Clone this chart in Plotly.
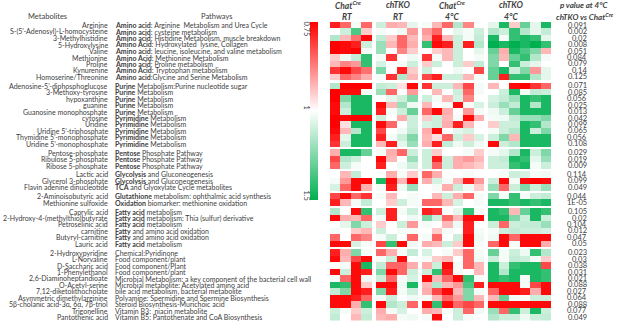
import plotly.graph_objects as go

W, H = 617, 323

metabolites = [
    "Arginine", "S-(5’-Adenosyl)-L-homocysteine", "3-Methylhistidine", "5-Hydroxylysine",
    "Valine", "Methionine", "Proline", "Kynurenine", "Homoserine/Threonine",
    "Adenosine-5’-diphosphoglucose", "3-Methoxy-tyrosine", "hypoxanthine", "guanine",
    "Guanosine monophosphate", "cytosine", "Uridine", "Uridine 5’-triphosphate",
    "Thymidine 5’-monophosphate", "Uridine 5’-monophosphate",
    "Pentose-phosphate", "Ribulose 5-phosphate", "Ribose 5-phosphate",
    "Lactic acid", "Glycerol 3-phosphate", "Flavin adenine dinucleotide",
    "2-Aminoisobutyric acid", "Methionine sulfoxide",
    "Caprylic acid", "2-Hydroxy-4-(methylthio)butyrate", "Petroselinic acid", "carnitine",
    "Butyryl-carnitine", "Lauric acid",
    "2-Hydroxypyridine", "L-Norvaline", "D-Saccharic acid", "1-Phenylethanol",
    "2,6-Diaminoheptandioate", "O-Acetyl-serine", "7,12-diketolithocholate",
    "Asymmetric dimethylarginine", "5β-cholanic acid-3α, 6α, 7β-triol", "Trigonelline",
    "Pantothenic acid",
]

pathways = [
    "<b>Amino acid</b>: Arginine  Metabolism and Urea Cycle",
    "<b>Amino acid</b>: cysteine metabolism",
    "<b>Amino acid</b>: Histidine Metabolism, muscle breakdown",
    "<b>Amino Acid</b>: Hydroxylated  lysine, Collagen",
    "<b>Amino acid</b>: leucine, isoleucine, and valine metabolism",
    "<b>Amino Acid</b>: Methionine Metabolism",
    "<b>Amino acid</b>: Proline metabolism",
    "<b>Amino Acid</b>: Tryptophan metabolism",
    "<b>Amino acid</b>:Glycine and Serine Metabolism",
    "<b>Purine</b> Metabolism:Purine nucleotide sugar",
    "<b>Purine</b> Metabolism",
    "<b>Purine</b> Metabolism",
    "<b>Purine</b> Metabolism",
    "<b>Purine</b> Metabolism",
    "<b>Pyrimidine</b> Metabolism",
    "<b>Pyrimidine</b> Metabolism",
    "<b>Pyrimidine</b> Metabolism",
    "<b>Pyrimidine</b> Metabolism",
    "<b>Pyrimidine</b> Metabolism",
    "<b>Pentose</b> Phosphate Pathway",
    "<b>Pentose</b> Phosphate Pathway",
    "<b>Pentose</b> Phosphate Pathway",
    "<b>Glycolysis</b> and Gluconeogenesis",
    "<b>Glycolysis</b> and Gluconeogenesis",
    "<b>TCA</b> and Glyoxylate Cycle metabolites",
    "<b>Glutathione</b> metabolism: ophthalmic acid synthesis",
    "<b>Oxidation</b> biomarker: methionine oxidation",
    "<b>Fatty acid</b> metabolism",
    "<b>Fatty acid</b> metabolism: Thia (sulfur) derivative",
    "<b>Fatty acid</b> metabolism",
    "<b>Fatty</b> and amino acid oxidation",
    "<b>Fatty</b> and amino acid oxidation",
    "<b>Fatty acid</b> metabolism",
    "Chemical:Pyridinone",
    "Food component/plant",
    "Food component/Plant",
    "Food component/plant",
    "Microbial Metabolism: a key component of the bacterial cell wall",
    "Microbial metabolite: Acetylated amino acid",
    "bile acid metabolism, bacterial metabolite",
    "Polyamine: Spermidine and Spermine Biosynthesis",
    "Steroid Biosynthesis-Murichoic acid",
    "Vitamin B3:  niacin metabolite",
    "Vitamin B5: Pantothenate and CoA Biosynthesis",
]

p_values = [
    "0.091", "0.002", "0.02", "0.008", "0.051", "0.084", "0.079", "0.14", "0.125",
    "0.071", "0.085", "0.056", "0.025", "0.013",
    "0.042", "0.099", "0.065", "0.056", "0.108",
    "0.029", "0.019", "0.009",
    "0.114", "0.099", "0.049",
    "0.044", "1E-05",
    "0.105", "0.02", "0.104", "0.012", "0.047", "0.05",
    "0.023", "0.03", "0.038", "0.031", "0.021", "0.088", "0.027", "0.064", "0.088",
    "0.077", "0.049",
]

block_sizes = [9, 10, 3, 3, 2, 6, 11]

group_titles = ["Chat<sup>Cre</sup>", "chTKO", "Chat<sup>Cre</sup>", "chTKO"]
group_conditions = ["RT", "RT", "4°C", "4°C"]

# fold change values (red = 0.75, white = 1, green = 1.5)
chat_rt = [
    [0.78, 0.85, 1.02, 0.85], [1.0, 1.1, 1.35, 0.95], [1.15, 0.93, 0.86, 0.76],
    [0.75, 0.76, 0.78, 1.1], [0.75, 0.76, 0.75, 1.02], [0.95, 1.03, 1.12, 1.4],
    [0.93, 0.88, 0.9, 1.4], [0.8, 0.76, 0.82, 0.86], [0.95, 0.85, 0.88, 0.92],
    [1.15, 0.75, 0.75, 0.75], [0.75, 0.76, 0.76, 1.02], [0.75, 1.25, 1.45, 1.45],
    [0.76, 1.15, 1.45, 1.45], [0.76, 1.1, 1.45, 1.45], [0.75, 0.76, 0.75, 0.75],
    [0.75, 0.97, 1.45, 1.45], [0.76, 0.93, 1.15, 1.45], [0.78, 1.05, 1.45, 1.45],
    [0.8, 1.1, 1.45, 1.45],
    [0.92, 1.45, 1.45, 1.3], [0.82, 1.15, 1.1, 1.0], [0.85, 1.1, 1.02, 1.0],
    [1.0, 0.93, 1.12, 1.0], [1.02, 0.9, 0.76, 0.75], [1.08, 0.85, 0.76, 0.92],
    [0.82, 0.76, 0.85, 0.8], [0.78, 0.93, 1.02, 1.12],
    [1.15, 1.0, 0.76, 1.4], [0.76, 0.92, 0.93, 0.85], [1.0, 1.05, 1.25, 1.1],
    [1.02, 1.0, 0.95, 0.93], [0.85, 1.0, 0.85, 0.88], [0.76, 0.76, 1.08, 1.02],
    [0.78, 0.92, 1.25, 1.02], [0.76, 0.93, 0.82, 0.76], [1.0, 1.02, 0.76, 1.45],
    [0.76, 1.1, 0.76, 0.78], [1.02, 0.85, 0.76, 1.03], [1.45, 1.4, 0.76, 0.95],
    [1.12, 1.25, 0.76, 0.78], [0.76, 0.76, 0.78, 0.85], [0.76, 0.76, 0.92, 1.4],
    [1.1, 1.02, 0.95, 1.1], [1.12, 1.0, 0.93, 1.12],
]

tko_rt = [
    [1.1, 0.92, 0.93, 1.05], [1.02, 1.0, 1.03, 0.9], [1.12, 0.95, 0.85, 0.93],
    [1.2, 0.93, 0.85, 0.92], [1.2, 1.0, 0.88, 0.95], [1.02, 0.8, 1.0, 1.03],
    [1.08, 1.0, 1.02, 1.1], [1.25, 1.0, 0.78, 0.95], [1.02, 0.8, 1.15, 0.93],
    [1.12, 1.1, 0.97, 0.76], [1.2, 0.85, 1.0, 0.9], [1.0, 1.05, 1.1, 1.25],
    [0.76, 0.93, 1.2, 1.03], [0.78, 1.02, 1.1, 1.3], [1.1, 1.0, 0.92, 1.1],
    [0.76, 0.85, 1.0, 1.1], [0.82, 1.0, 1.03, 1.12], [0.78, 1.02, 1.1, 1.25],
    [0.93, 0.78, 1.05, 1.2],
    [1.02, 0.92, 0.85, 1.1], [0.76, 0.93, 1.0, 1.2], [0.78, 1.0, 1.03, 1.1],
    [1.0, 0.92, 1.02, 0.95], [1.45, 0.76, 0.93, 0.76], [1.02, 0.78, 1.03, 1.2],
    [1.02, 0.93, 1.0, 1.02], [1.0, 0.95, 1.1, 1.02],
    [1.1, 0.78, 1.02, 1.1], [1.02, 0.78, 1.0, 1.03], [0.95, 1.0, 1.1, 0.9],
    [1.1, 1.0, 1.02, 1.02], [1.02, 1.1, 1.0, 0.85], [0.82, 1.4, 0.76, 1.03],
    [0.85, 0.92, 1.02, 1.12], [1.02, 1.1, 0.76, 1.0], [1.12, 0.85, 0.85, 0.92],
    [1.25, 0.76, 0.85, 1.1], [1.1, 0.85, 1.02, 1.08], [0.76, 0.76, 1.03, 1.45],
    [1.25, 0.78, 1.02, 1.1], [1.02, 1.1, 1.0, 1.03], [0.76, 1.15, 1.1, 0.85],
    [0.92, 1.02, 1.08, 1.0], [0.93, 0.92, 1.02, 1.03],
]

chat_cold = [
    [1.02, 0.93, 0.85, 1.15, 0.88, 1.0], [0.9, 0.85, 1.0, 1.05, 1.02, 1.1],
    [0.92, 0.78, 0.93, 1.1, 1.02, 1.12], [1.4, 0.76, 0.78, 1.1, 0.78, 1.15],
    [1.0, 0.95, 0.93, 1.1, 1.0, 1.05], [0.8, 1.02, 0.93, 1.1, 1.0, 1.02],
    [0.95, 1.1, 1.0, 1.1, 0.95, 1.12], [1.1, 1.0, 1.0, 1.03, 1.0, 0.82],
    [0.82, 0.78, 1.1, 1.1, 0.93, 1.02],
    [0.8, 1.1, 1.1, 0.93, 0.82, 1.02], [1.0, 0.93, 1.0, 1.1, 0.85, 1.02],
    [1.1, 1.02, 0.93, 1.08, 0.88, 1.0], [0.93, 1.0, 1.02, 0.76, 1.02, 1.08],
    [0.85, 0.76, 0.92, 1.0, 0.9, 1.02], [0.95, 1.1, 0.93, 1.02, 0.76, 0.92],
    [1.08, 1.1, 0.92, 0.78, 0.93, 1.0], [0.92, 0.76, 1.0, 1.05, 1.08, 1.0],
    [0.93, 0.97, 0.85, 1.1, 0.95, 1.08], [0.92, 0.78, 1.12, 1.03, 1.1, 1.03],
    [1.1, 0.95, 1.0, 1.0, 1.02, 0.95], [1.1, 0.78, 1.1, 0.92, 0.9, 0.93],
    [1.1, 0.85, 1.1, 0.92, 0.93, 0.95],
    [0.85, 0.92, 1.0, 1.0, 1.02, 1.0], [0.92, 1.08, 1.02, 0.93, 0.78, 0.9],
    [1.0, 1.02, 0.92, 1.1, 1.03, 0.95],
    [1.0, 0.93, 1.1, 0.92, 0.85, 1.02], [0.85, 0.85, 0.93, 1.08, 1.0, 1.02],
    [0.78, 0.8, 1.0, 1.05, 1.4, 1.02], [1.25, 1.1, 0.85, 0.93, 0.76, 0.76],
    [1.02, 1.0, 0.93, 1.03, 0.78, 1.0], [1.0, 0.95, 1.02, 1.0, 0.78, 1.02],
    [1.02, 0.85, 1.0, 1.1, 0.76, 1.03], [0.92, 0.93, 1.1, 0.95, 0.76, 1.02],
    [1.08, 1.0, 1.02, 0.95, 0.85, 1.02], [1.02, 0.95, 0.93, 1.0, 0.85, 1.03],
    [0.92, 1.1, 0.76, 1.02, 0.85, 0.93], [1.1, 1.4, 0.78, 1.02, 1.0, 0.93],
    [0.76, 0.93, 0.85, 0.76, 1.4, 1.02], [0.93, 1.15, 0.93, 0.9, 1.35, 0.78],
    [0.92, 0.82, 0.76, 0.93, 1.25, 1.02], [1.02, 0.93, 0.85, 0.9, 1.25, 0.93],
    [0.76, 1.4, 0.76, 0.85, 0.82, 0.85], [0.92, 0.93, 1.02, 1.1, 0.85, 1.03],
    [1.02, 0.76, 1.0, 1.1, 1.02, 1.0],
]

tko_cold = [
    [1.05, 1.45, 0.95, 1.3, 1.05, 1.45], [1.15, 1.1, 1.4, 1.15, 1.05, 1.12],
    [1.45, 1.02, 1.4, 1.45, 1.4, 1.05], [1.5, 1.45, 1.5, 1.45, 1.5, 1.4],
    [1.3, 0.92, 1.45, 1.35, 1.25, 0.93], [1.25, 0.93, 1.3, 1.4, 1.15, 1.02],
    [1.25, 1.0, 1.4, 1.1, 1.05, 1.0], [1.3, 1.45, 1.1, 1.25, 0.9, 1.05],
    [1.3, 0.78, 1.4, 1.4, 1.15, 1.05],
    [0.93, 1.0, 0.76, 0.75, 0.8, 0.85], [1.0, 1.1, 1.45, 1.02, 1.12, 1.1],
    [1.08, 1.12, 1.2, 1.45, 1.4, 1.45], [1.1, 1.2, 1.12, 1.45, 1.15, 1.45],
    [1.03, 1.1, 1.3, 1.45, 1.45, 1.45], [1.02, 1.03, 1.12, 1.2, 1.2, 1.25],
    [0.95, 1.1, 1.1, 1.45, 1.4, 1.15], [1.02, 1.1, 1.15, 1.45, 1.1, 1.25],
    [1.1, 1.25, 0.93, 1.45, 1.45, 1.45], [0.76, 1.1, 1.15, 1.45, 1.45, 1.45],
    [1.02, 1.05, 1.15, 1.45, 1.1, 1.25], [1.1, 1.12, 1.45, 1.4, 1.05, 1.2],
    [1.1, 1.1, 1.4, 1.45, 1.02, 1.1],
    [1.0, 1.02, 1.1, 1.08, 1.02, 1.03], [1.1, 0.76, 1.02, 0.76, 0.75, 0.76],
    [1.2, 0.85, 1.1, 1.25, 1.1, 1.2],
    [1.25, 1.02, 1.4, 1.02, 1.1, 1.12], [1.45, 1.45, 1.4, 1.45, 1.4, 1.45],
    [1.45, 1.4, 0.93, 1.3, 1.45, 1.4], [1.45, 1.45, 1.25, 1.1, 1.45, 1.1],
    [1.1, 0.85, 1.1, 1.12, 1.12, 1.2], [1.02, 1.1, 1.12, 1.1, 1.1, 1.08],
    [1.03, 0.76, 0.85, 0.76, 0.76, 0.76], [0.85, 0.76, 1.02, 0.76, 0.76, 0.92],
    [1.3, 1.02, 1.1, 1.03, 1.4, 1.15], [1.1, 1.02, 1.12, 1.1, 1.02, 0.95],
    [1.45, 1.1, 1.4, 1.45, 1.45, 0.82], [1.45, 1.15, 1.45, 1.45, 1.45, 1.4],
    [1.45, 1.4, 1.45, 1.02, 1.45, 1.4], [0.76, 0.76, 0.76, 1.02, 0.82, 0.76],
    [0.85, 0.76, 0.76, 0.78, 0.92, 0.76], [0.93, 1.3, 1.02, 1.0, 1.1, 1.1],
    [0.76, 0.76, 0.76, 0.76, 0.76, 0.76], [1.2, 0.85, 1.4, 1.1, 1.45, 1.1],
    [1.15, 1.1, 1.1, 1.03, 1.1, 1.12],
]

groups = [chat_rt, tko_rt, chat_cold, tko_cold]

# ---- geometry (pixels) ----
HEAT_L, HEAT_R = 330, 551
HEAT_T, HEAT_B = 22, 320.5
COL_GAP = 0.38
ROW_GAP = 0.37
TXT = "#404040"
FONT = "Lato"


def to_scale(fc):
    # position on the diverging colour scale: 0 = green (1.5), 0.5 = white (1), 1 = red (0.75)
    if fc <= 1:
        t = 0.5 + (1 - fc) / 0.25 * 0.5
    else:
        t = 0.5 - (fc - 1) / 0.5 * 0.5
    return max(0.0, min(1.0, t))


# x edges with gap columns
x_edges = [0.0]
col_map = []
for gi, g in enumerate(groups):
    if gi > 0:
        x_edges.append(x_edges[-1] + COL_GAP)
        col_map.append(None)
    for ci in range(len(g[0])):
        x_edges.append(x_edges[-1] + 1)
        col_map.append((gi, ci))

# y edges with gap rows
y_edges = [0.0]
row_map = []
row_centers = []
r = 0
for bi, n in enumerate(block_sizes):
    if bi > 0:
        y_edges.append(y_edges[-1] + ROW_GAP)
        row_map.append(None)
    for _ in range(n):
        row_centers.append(y_edges[-1] + 0.5)
        y_edges.append(y_edges[-1] + 1)
        row_map.append(r)
        r += 1

z = []
for rm in row_map:
    row = []
    for cm in col_map:
        if rm is None or cm is None:
            row.append(None)
        else:
            gi, ci = cm
            row.append(to_scale(groups[gi][rm][ci]))
    z.append(row)

colorscale = [[0.0, "rgb(0,176,80)"], [0.5, "rgb(255,255,255)"], [1.0, "rgb(255,0,0)"]]

fig = go.Figure(go.Heatmap(
    z=z, x=x_edges, y=y_edges, zmin=0, zmax=1, colorscale=colorscale,
    hoverongaps=False,
    colorbar=dict(
        x=310 / W, xanchor="left", y=1 - HEAT_T / H, yanchor="top",
        lenmode="pixels", len=178, thicknessmode="pixels", thickness=8,
        outlinewidth=0, showticklabels=False, ticks="", xpad=0, ypad=0,
    ),
))

ann = []
for i, name in enumerate(metabolites):
    yc = row_centers[i]
    ann.append(dict(x=109.5 / W, y=yc, xref="paper", yref="y", text=name, showarrow=False,
                    xanchor="right", yanchor="middle", font=dict(family=FONT, size=7, color=TXT)))
    ann.append(dict(x=112.5 / W, y=yc, xref="paper", yref="y", text=pathways[i], showarrow=False,
                    xanchor="left", yanchor="middle", font=dict(family=FONT, size=7, color=TXT)))
    ann.append(dict(x=589 / W, y=yc, xref="paper", yref="y", text=p_values[i], showarrow=False,
                    xanchor="right", yanchor="middle", font=dict(family=FONT, size=7.5, color=TXT)))

# column headers
header_x = [348, 398, 452, 511]
for gi in range(4):
    ann.append(dict(x=header_x[gi] / W, y=1 - 5 / H, xref="paper", yref="paper",
                    text="<b><i>" + group_titles[gi] + "</i></b>", showarrow=False,
                    xanchor="center", yanchor="middle", font=dict(family=FONT, size=8.5, color=TXT)))
    ann.append(dict(x=header_x[gi] / W, y=1 - 16.5 / H, xref="paper", yref="paper",
                    text="<b><i>" + group_conditions[gi] + "</i></b>", showarrow=False,
                    xanchor="center", yanchor="middle", font=dict(family=FONT, size=8.5, color=TXT)))

ann.append(dict(x=584 / W, y=1 - 5 / H, xref="paper", yref="paper",
                text="<b><i>p value at 4°C</i></b>", showarrow=False,
                xanchor="center", yanchor="middle", font=dict(family=FONT, size=8, color=TXT)))
ann.append(dict(x=585 / W, y=1 - 16 / H, xref="paper", yref="paper",
                text="<b><i>chTKO vs Chat<sup>Cre</sup></i></b>", showarrow=False,
                xanchor="center", yanchor="middle", font=dict(family=FONT, size=8, color=TXT)))

ann.append(dict(x=47 / W, y=1 - 16 / H, xref="paper", yref="paper", text="Metabolites",
                showarrow=False, xanchor="center", yanchor="middle",
                font=dict(family=FONT, size=7.5, color=TXT)))
ann.append(dict(x=216 / W, y=1 - 17 / H, xref="paper", yref="paper", text="Pathways",
                showarrow=False, xanchor="center", yanchor="middle",
                font=dict(family=FONT, size=7.5, color=TXT)))

# colour bar labels
for lab, py in [("0.75", 28.5), ("1", 107.5), ("1.5", 195.5)]:
    ann.append(dict(x=306 / W, y=1 - py / H, xref="paper", yref="paper", text=lab,
                    showarrow=False, xanchor="center", yanchor="middle", textangle=90,
                    font=dict(family=FONT, size=7.5, color=TXT)))

fig.update_layout(
    width=W, height=H, margin=dict(l=0, r=0, t=0, b=0),
    paper_bgcolor="white", plot_bgcolor="white",
    xaxis=dict(domain=[HEAT_L / W, HEAT_R / W], range=[0, x_edges[-1]], visible=False, fixedrange=True),
    yaxis=dict(domain=[1 - HEAT_B / H, 1 - HEAT_T / H], range=[y_edges[-1], 0], visible=False, fixedrange=True),
    annotations=ann, showlegend=False,
)

fig.write_html("out.html", config={"displayModeBar": False},
               post_script="document.body.style.margin='0';document.body.style.padding='0';")
